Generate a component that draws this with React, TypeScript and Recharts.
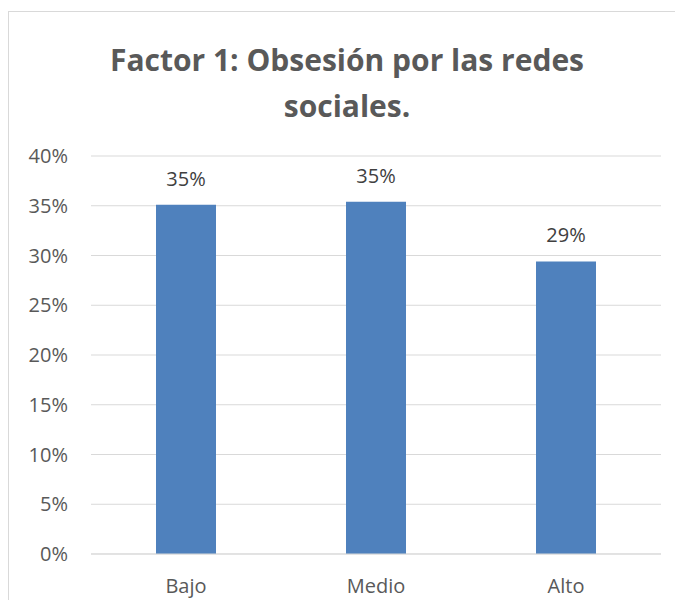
import { Bar, BarChart, CartesianGrid, LabelList, XAxis, YAxis } from 'recharts'

const categories = ['Bajo', 'Medio', 'Alto']
const values = [35.1, 35.4, 29.4]
const yTicks = [0, 5, 10, 15, 20, 25, 30, 35, 40]
const titleLines = ['Factor 1: Obsesión por las redes', 'sociales.']

const data = categories.map((name, i) => ({ name, value: values[i] }))

const font = '"Open Sans", sans-serif'

export default function App() {
  return (
    <div style={{ position: 'relative', width: 675, height: 592, overflow: 'hidden', fontFamily: font }}>
      <div
        style={{
          position: 'absolute',
          left: 0,
          top: 3,
          width: 675,
          height: 589,
          borderTop: '1px solid #d9d9d9',
          borderLeft: '1px solid #d9d9d9',
          boxSizing: 'border-box',
        }}
      />
      <div
        style={{
          position: 'absolute',
          left: 0,
          top: 29,
          width: 678,
          textAlign: 'center',
          fontSize: 30,
          fontWeight: 700,
          lineHeight: '46px',
          color: '#595959',
        }}
      >
        {titleLines.map((t) => (
          <div key={t}>{t}</div>
        ))}
      </div>
      <BarChart
        width={675}
        height={600}
        data={data}
        margin={{ top: 148, right: 22, left: 0, bottom: 0 }}
        style={{ position: 'absolute', left: 0, top: 0 }}
      >
        <CartesianGrid vertical={false} stroke="#d9d9d9" />
        <XAxis
          dataKey="name"
          height={54}
          axisLine={{ stroke: '#d9d9d9' }}
          tickLine={false}
          tickSize={23}
          tick={{ fill: '#595959', fontSize: 20, fontFamily: font }}
        />
        <YAxis
          width={83}
          domain={[0, 40]}
          ticks={yTicks}
          axisLine={false}
          tickLine={false}
          tickSize={21}
          tickFormatter={(v) => `${v}%`}
          tick={{ fill: '#595959', fontSize: 20, fontFamily: font }}
        />
        <Bar dataKey="value" fill="#4f81bd" barSize={60} isAnimationActive={false}>
          <LabelList
            dataKey="value"
            position="top"
            offset={19}
            formatter={(v: any) => `${Math.round(v)}%`}
            style={{ fill: '#404040', fontSize: 20, fontFamily: font }}
          />
        </Bar>
      </BarChart>
    </div>
  )
}
